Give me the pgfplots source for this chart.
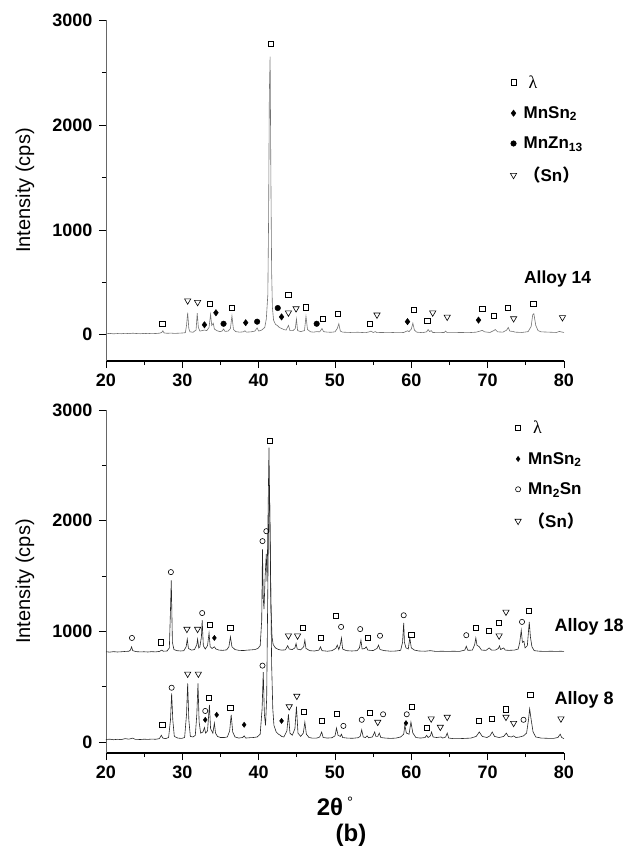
\documentclass[border=0pt]{standalone}
\usepackage{fontspec}
\setmainfont{Liberation Sans}
\newfontfamily\serif{Liberation Serif}
\newfontfamily\cjk{Noto Sans CJK SC}
\usepackage{pgfplots}
\pgfplotsset{compat=1.18}

\pgfplotsset{
  xrd/.style={
    scale only axis, width=458pt, clip=false,
    axis x line*=bottom, axis y line*=left,
    x axis line style={line width=1.4pt, -},
    y axis line style={line width=0.7pt, black!60, -},
    xmin=20, xmax=80, ymax=3000,
    xtick={20,30,...,80}, minor x tick num=1,
    ytick={0,1000,2000,3000}, minor y tick num=1,
    tick align=outside, major tick length=7pt, minor tick length=4pt,
    tick style={black, line width=0.7pt},
    /pgf/number format/assume math mode=true,
    /pgf/number format/1000 sep={},
    ticklabel style={font=\bfseries\fontsize{18}{20}\selectfont},
    xticklabel style={yshift=-2pt},
    yticklabel style={xshift=-3pt},
    ylabel={Intensity (cps)},
    ylabel style={font=\fontsize{20}{22}\selectfont, at={(axis description cs:-0.177,0.5)}, anchor=center},
    legend style={draw=none, fill=none, font=\bfseries\fontsize{17}{19}\selectfont, row sep=13pt, legend cell align=left},
  },
  curve/.style={no marks, line width=0.6pt, forget plot},
  lam/.style={only marks, mark=square, mark size=2.6pt, mark options={line width=0.8pt, black}},
  dia/.style={only marks, mark=diamond*, mark size=3.2pt, mark options={black}},
  dot/.style={only marks, mark=*, mark size=2.8pt, mark options={black}},
  ocirc/.style={only marks, mark=o, mark size=2.6pt, mark options={line width=0.6pt, black}},
  tri/.style={only marks, mark=triangle, mark size=3.6pt, mark options={rotate=180, line width=0.6pt, black}},
}

\begin{document}
\begin{tikzpicture}
\useasboundingbox (0,0) rectangle (626pt,-852pt);

% ---------------- top panel: Alloy 14
\begin{axis}[xrd, at={(106pt,-361pt)}, anchor=south west, height=341pt, ymin=-250,
  legend style={at={(0.876,0.85)}, anchor=north west}]
\addplot[curve, black!55] coordinates {
(20.0,10) (20.5,13) (21.0,9) (21.5,12) (22.0,10) (22.5,14) (23.0,11) (23.5,15) (24.0,12) (24.5,10)
(25.0,13) (25.5,11) (26.0,14) (26.5,12) (27.0,15) (27.3,22) (27.45,38) (27.6,18) (28.0,14) (28.5,16)
(29.0,13) (29.5,15) (30.0,17) (30.4,20) (30.55,90) (30.7,210) (30.85,60) (31.0,28) (31.4,24) (31.8,45)
(31.95,205) (32.1,70) (32.3,35) (32.6,40) (32.9,45) (33.2,40) (33.5,70) (33.7,195) (33.85,90) (34.05,110)
(34.2,55) (34.5,40) (34.9,30) (35.2,35) (35.4,55) (35.6,32) (36.0,35) (36.3,60) (36.5,180) (36.7,50)
(37.0,30) (37.5,25) (38.0,28) (38.2,38) (38.4,25) (39.0,28) (39.5,35) (39.8,65) (40.0,35) (40.4,45)
(40.8,70) (41.0,150) (41.2,380) (41.3,1100) (41.4,2300) (41.5,2650) (41.6,1500) (41.7,600) (41.8,260) (41.95,140)
(42.2,100) (42.5,85) (42.7,70) (43.0,60) (43.3,50) (43.6,45) (43.9,90) (44.1,40) (44.5,40) (44.8,60)
(44.95,150) (45.1,40) (45.5,30) (46.0,40) (46.2,175) (46.4,50) (46.8,28) (47.2,25) (47.6,30) (48.0,28)
(48.3,60) (48.5,30) (49.0,25) (49.5,24) (50.0,28) (50.3,60) (50.5,105) (50.7,35) (51.0,25) (52.0,22)
(53.0,24) (54.0,20) (54.5,28) (54.7,35) (55.0,22) (55.3,30) (55.5,20) (56.0,22) (57.0,20) (58.0,23)
(59.0,22) (59.5,38) (59.7,30) (60.0,55) (60.2,110) (60.4,45) (60.7,25) (61.5,20) (62.0,28) (62.2,50)
(62.4,30) (62.6,40) (62.8,22) (63.5,20) (64.3,22) (64.5,35) (64.7,20) (65.5,20) (66.5,22) (67.5,20)
(68.5,25) (69.0,35) (69.3,42) (69.6,28) (70.3,22) (70.8,40) (71.0,50) (71.3,28) (72.0,25) (72.5,45)
(72.7,70) (72.9,35) (73.3,32) (73.6,25) (74.5,22) (75.3,30) (75.7,80) (75.9,190) (76.05,200) (76.3,90)
(76.6,40) (77.0,28) (78.0,25) (79.0,22) (79.4,32) (79.6,28) (80.0,22)
};
\addplot[lam] coordinates {(27.4,105) (33.6,295) (36.5,255) (41.6,2770) (43.9,380) (46.2,260) (48.4,150)
  (50.4,200) (54.6,105) (60.3,240) (62.1,135) (69.3,250) (70.8,180) (72.6,255) (76.0,295)};
\addlegendentry{\normalfont\serif\fontsize{18}{19}\selectfont\hspace{10pt}λ}
\addplot[dia] coordinates {(32.9,95) (34.4,210) (38.3,115) (43.0,170) (59.5,125) (68.8,140)};
\addlegendentry{\hspace{5pt}MnSn\textsubscript{2}}
\addplot[dot] coordinates {(35.4,105) (39.8,125) (42.5,255) (47.6,105)};
\addlegendentry{\hspace{5pt}MnZn\textsubscript{13}}
\addplot[tri] coordinates {(30.7,325) (32.0,310) (43.9,210) (44.9,250) (55.5,190) (62.8,210) (64.7,170)
  (73.4,155) (79.8,165)};
\addlegendentry{\hspace{5pt}{\cjk （}Sn{\cjk ）}}
\node[anchor=west, font=\bfseries\fontsize{17.5}{20}\selectfont] at (axis cs:74.3,535) {Alloy 14};
\end{axis}

% ---------------- bottom panel: Alloy 18 and Alloy 8
\begin{axis}[xrd, at={(106pt,-753pt)}, anchor=south west, height=343pt, ymin=-100,
  xlabel={\bfseries\fontsize{24}{26}\selectfont 2θ\,\raisebox{0.6ex}{\normalfont\fontsize{15}{17}\selectfont °}},
  xlabel style={at={(axis description cs:0.5,-0.155)}, anchor=center},
  legend style={at={(0.886,0.98)}, anchor=north west}]
\addplot[curve, black!85] coordinates {
(20.0,815) (20.5,812) (21.0,816) (21.5,813) (22.0,815) (22.5,818) (23.0,820) (23.2,830) (23.35,860) (23.5,825)
(24.0,816) (24.5,814) (25.0,815) (25.5,813) (26.0,816) (26.5,814) (27.0,818) (27.3,830) (27.5,820) (28.0,822)
(28.3,850) (28.45,1200) (28.55,1460) (28.7,900) (28.9,835) (29.3,825) (29.8,822) (30.2,825) (30.5,860) (30.65,930)
(30.8,845) (31.2,830) (31.6,835) (31.9,880) (32.0,930) (32.15,850) (32.3,860) (32.5,950) (32.6,1100) (32.75,870)
(33.0,840) (33.3,870) (33.5,985) (33.65,860) (33.9,845) (34.2,860) (34.4,840) (34.8,830) (35.3,828) (35.8,832)
(36.1,860) (36.3,950) (36.5,860) (36.9,835) (37.4,828) (38.0,826) (38.5,830) (39.0,832) (39.5,835) (39.9,845)
(40.2,870) (40.4,1100) (40.5,1740) (40.6,1300) (40.7,1200) (40.85,1500) (41.0,1700) (41.1,1450) (41.2,1900) (41.35,2660)
(41.5,1850) (41.6,1250) (41.75,950) (41.9,880) (42.2,850) (42.6,835) (43.0,830) (43.5,832) (43.8,870) (44.0,840)
(44.4,835) (44.75,850) (44.9,890) (45.05,840) (45.5,832) (45.9,860) (46.05,920) (46.2,845) (46.7,825) (47.3,822)
(47.9,830) (48.1,860) (48.3,825) (49.0,820) (49.6,825) (50.1,845) (50.3,875) (50.5,835) (50.7,880) (50.85,940)
(51.0,840) (51.5,825) (52.2,822) (52.9,825) (53.2,850) (53.4,920) (53.55,840) (53.9,845) (54.1,860) (54.3,830)
(55.0,826) (55.5,845) (55.7,875) (55.9,835) (56.5,825) (57.3,820) (58.0,822) (58.6,828) (58.85,900) (59.0,1075)
(59.1,900) (59.3,850) (59.6,840) (59.8,940) (60.0,850) (60.4,830) (61.0,822) (61.8,820) (62.5,825) (63.2,818)
(64.0,820) (64.8,818) (65.5,820) (66.3,818) (67.0,830) (67.2,865) (67.4,828) (68.0,830) (68.3,880) (68.45,940)
(68.6,875) (68.9,860) (69.2,830) (69.8,828) (70.2,850) (70.5,830) (71.0,830) (71.4,845) (71.55,868) (71.7,835)
(72.1,850) (72.3,830) (72.8,828) (73.5,830) (74.0,840) (74.2,900) (74.4,1010) (74.55,900) (74.75,910) (74.9,850)
(75.2,870) (75.35,1000) (75.45,1085) (75.6,950) (75.8,860) (76.1,825) (76.8,820) (77.5,818) (78.3,820) (79.0,818)
(79.6,820) (80.0,818)
};
\addplot[curve, black!85] coordinates {
(20.0,22) (20.5,25) (21.0,20) (21.5,24) (22.0,21) (22.5,30) (23.0,25) (23.5,35) (23.8,24) (24.5,22)
(25.0,25) (25.5,23) (26.0,26) (26.5,24) (27.0,30) (27.25,60) (27.45,35) (27.8,30) (28.2,40) (28.45,200)
(28.6,440) (28.75,200) (28.95,50) (29.4,35) (29.9,32) (30.3,40) (30.55,250) (30.7,530) (30.85,200) (31.05,50)
(31.4,45) (31.7,60) (31.9,250) (32.05,530) (32.2,180) (32.4,80) (32.7,90) (32.9,130) (33.05,80) (33.3,100)
(33.55,335) (33.7,120) (34.0,80) (34.2,170) (34.35,80) (34.6,50) (35.0,40) (35.5,40) (35.9,45) (36.2,100)
(36.4,245) (36.6,90) (36.9,45) (37.4,35) (37.9,40) (38.1,55) (38.3,35) (38.8,38) (39.3,40) (39.8,45)
(40.2,70) (40.45,300) (40.6,630) (40.75,250) (40.9,150) (41.05,400) (41.2,1400) (41.3,2000) (41.42,2300) (41.55,1600)
(41.7,700) (41.85,300) (42.0,150) (42.3,90) (42.6,70) (42.85,60) (43.0,50) (43.3,45) (43.7,100) (43.9,250)
(44.1,80) (44.4,60) (44.75,120) (44.95,320) (45.15,80) (45.5,50) (45.85,80) (46.05,180) (46.25,70) (46.6,40)
(47.0,35) (47.6,35) (48.0,45) (48.25,90) (48.45,40) (49.0,35) (49.6,38) (50.0,55) (50.2,125) (50.4,60)
(50.7,50) (50.85,70) (51.0,40) (51.6,35) (52.3,33) (53.0,38) (53.3,50) (53.5,110) (53.7,45) (54.0,40)
(54.2,55) (54.4,38) (54.9,45) (55.2,90) (55.35,50) (55.6,50) (55.8,80) (56.0,40) (56.6,35) (57.3,32)
(58.0,35) (58.6,45) (59.0,70) (59.15,150) (59.35,80) (59.7,70) (59.95,180) (60.2,80) (60.6,40) (61.2,35)
(61.8,40) (62.0,60) (62.2,40) (62.5,55) (62.65,90) (62.85,45) (63.3,40) (63.9,45) (64.1,35) (64.5,45)
(64.7,80) (64.9,35) (65.5,30) (66.3,30) (67.0,32) (67.8,35) (68.5,50) (68.9,90) (69.3,50) (69.9,40)
(70.3,55) (70.6,90) (70.9,50) (71.5,40) (72.1,50) (72.45,80) (72.7,50) (73.1,45) (73.4,55) (73.7,40)
(74.2,45) (74.7,55) (75.1,80) (75.35,200) (75.5,300) (75.7,200) (75.95,90) (76.3,45) (77.0,35) (77.8,33)
(78.6,32) (79.2,40) (79.5,70) (79.7,40) (80.0,30)
};
\addplot[lam] coordinates {(27.2,900) (33.6,1055) (36.3,1030) (41.5,2720) (45.8,1030) (48.2,940) (50.1,1140)
  (54.3,940) (60.0,965) (68.5,1030) (70.2,1005) (71.5,1075) (75.4,1185)
  (27.4,155) (33.5,400) (36.3,310) (45.9,270) (48.3,190) (50.3,250) (54.6,260) (60.1,320) (62.0,125)
  (68.9,190) (70.6,210) (72.4,295) (75.6,425)};
\addlegendentry{\normalfont\serif\fontsize{18}{19}\selectfont\hspace{10pt}λ}
\addplot[dia, mark size=2.6pt] coordinates {(34.2,940) (33.0,200) (34.5,245) (38.1,155) (43.0,190) (59.3,170)};
\addlegendentry{\hspace{5pt}MnSn\textsubscript{2}}
\addplot[ocirc] coordinates {(23.4,940) (28.5,1535) (32.6,1165) (40.5,1815) (41.0,1905) (50.8,1040) (53.3,1020)
  (55.9,960) (59.0,1145) (67.2,965) (74.5,1085)
  (28.6,490) (33.0,280) (40.5,690) (51.1,145) (53.5,200) (56.3,250) (59.4,250) (74.7,200)};
\addlegendentry{\hspace{5pt}Mn\textsubscript{2}Sn}
\addplot[tri] coordinates {(30.6,1020) (32.0,1020) (43.9,960) (45.1,960) (71.5,960) (72.4,1175)
  (30.7,615) (32.1,615) (44.0,320) (45.0,415) (55.6,180) (62.6,210) (63.8,135) (64.7,225) (72.4,225)
  (73.4,170) (79.6,210)};
\addlegendentry{\hspace{5pt}{\cjk （}Sn{\cjk ）}}
\node[anchor=west, font=\bfseries\fontsize{18}{20}\selectfont] at (axis cs:78.3,1039) {Alloy 18};
\node[anchor=west, font=\bfseries\fontsize{18}{20}\selectfont] at (axis cs:78.3,380) {Alloy 8};
\node[font=\bfseries\fontsize{24}{27}\selectfont] at (axis description cs:0.535,-0.24) {(b)};
\end{axis}
\end{tikzpicture}
\end{document}
